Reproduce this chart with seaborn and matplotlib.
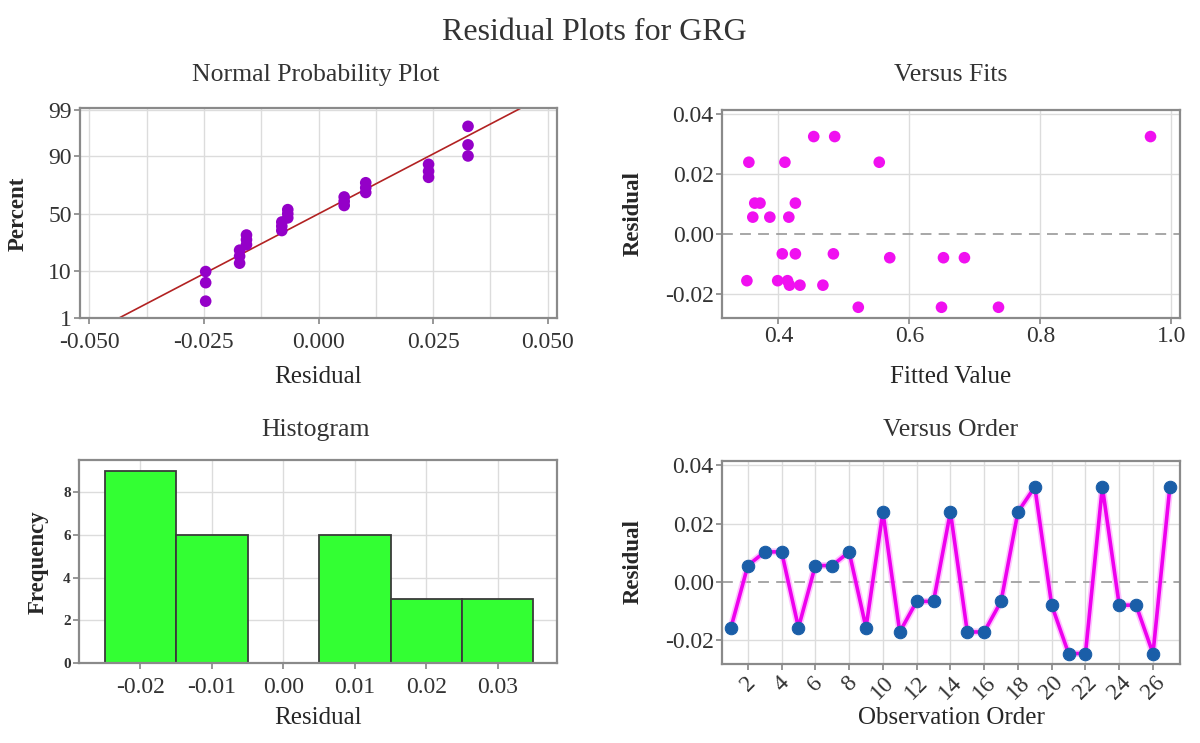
import matplotlib
matplotlib.use("Agg")
import numpy as np
import pandas as pd
import matplotlib.pyplot as plt
import seaborn as sns
from statistics import NormalDist

# datos (27 observaciones)
order = list(range(1, 28))
residuals = [-0.0157, 0.0056, 0.0103, 0.0103, -0.0157, 0.0056, 0.0056, 0.0103, -0.0157,
             0.0240, -0.0172, -0.0067, -0.0067, 0.0240, -0.0172, -0.0172, -0.0067, 0.0240,
             0.0326, -0.0080, -0.0246, -0.0246, 0.0326, -0.0080, -0.0080, -0.0246, 0.0326]
fitted = [0.352, 0.361, 0.364, 0.372, 0.399, 0.387, 0.416, 0.426, 0.414,
          0.355, 0.417, 0.406, 0.426, 0.410, 0.433, 0.468, 0.484, 0.554,
          0.454, 0.570, 0.522, 0.649, 0.486, 0.652, 0.684, 0.736, 0.968]
pct_ticks = [1, 10, 50, 90, 99]
hist_edges = [-0.025, -0.015, -0.005, 0.005, 0.015, 0.025, 0.035]

df = pd.DataFrame({"order": order, "residual": residuals, "fitted": fitted})

sns.set_theme(style="whitegrid")
plt.rcParams["font.family"] = ["Liberation Serif", "DejaVu Serif"]
plt.rcParams["axes.edgecolor"] = "#8a8a8a"
plt.rcParams["axes.linewidth"] = 1.6
plt.rcParams["grid.color"] = "#dcdcdc"
plt.rcParams["grid.linewidth"] = 1.0
plt.rcParams["text.color"] = "#333333"
plt.rcParams["xtick.color"] = "#333333"
plt.rcParams["ytick.color"] = "#333333"

W, H = 1200, 743
fig = plt.figure(figsize=(12, 7.43), dpi=100)


def box(x0, y0, x1, y1):
    return [x0 / W, 1 - y1 / H, (x1 - x0) / W, (y1 - y0) / H]


TICK = 17
XLAB = 18
YLAB = 16.5
ax1 = fig.add_axes(box(80, 108, 557, 318))
ax2 = fig.add_axes(box(722, 110, 1180, 318))
ax3 = fig.add_axes(box(79, 460, 557, 663))
ax4 = fig.add_axes(box(722, 461, 1180, 664))

for ax in (ax1, ax2, ax3, ax4):
    ax.set_axisbelow(True)
    ax.tick_params(labelsize=TICK, length=4, color="#8a8a8a", direction="out",
                   bottom=True, left=True, pad=2)

# --- Normal Probability Plot
nd = NormalDist()
n = len(residuals)
res_sorted = np.sort(residuals)
z_pts = [nd.inv_cdf((i - 0.3) / (n + 0.4)) for i in range(1, n + 1)]
mu = float(np.mean(residuals))
sd = float(np.std(residuals, ddof=1))
z_line = np.array([-2.6, 2.6])
sns.lineplot(x=mu + sd * z_line, y=z_line, ax=ax1, color="#b22222", lw=1.2)
sns.scatterplot(x=res_sorted, y=z_pts, ax=ax1, color="#9400c8", s=70,
                edgecolor="none", zorder=3)
ax1.set_xlim(-0.052, 0.052)
ax1.set_ylim(nd.inv_cdf(0.01), 2.36)
ax1.set_yticks([nd.inv_cdf(p / 100) for p in pct_ticks])
ax1.set_yticklabels([str(p) for p in pct_ticks])
ax1.set_xticks(np.arange(-0.05, 0.051, 0.025))
ax1.set_xticklabels(["-0.050", "-0.025", "0.000", "0.025", "0.050"])
ax1.set_xticks(np.arange(-0.05, 0.051, 0.0125), minor=True)
ax1.tick_params(which="minor", length=0)
ax1.tick_params(axis="x", pad=6)
ax1.grid(True, which="both", axis="x")

# --- Versus Fits
ax2.axhline(0, color="#a0a0a0", lw=1.3, ls=(0, (6, 4)), zorder=1)
sns.scatterplot(data=df, x="fitted", y="residual", ax=ax2, color="#f010f0",
                s=70, edgecolor="none", zorder=3)
ax2.set_xlim(0.314, 1.013)
ax2.set_ylim(-0.0282, 0.0415)
ax2.set_xticks([0.4, 0.6, 0.8, 1.0])
ax2.set_xticklabels(["0.4", "0.6", "0.8", "1.0"])
ax2.set_yticks([-0.02, 0.0, 0.02, 0.04])
ax2.set_yticklabels(["-0.02", "0.00", "0.02", "0.04"])
ax2.get_ygridlines()[1].set_visible(False)

# --- Histogram
sns.histplot(data=df, x="residual", bins=hist_edges, ax=ax3, color="#33ff33",
             alpha=1.0, edgecolor="#3a3a3a", linewidth=1.3)
ax3.set_xlim(-0.0286, 0.0383)
ax3.set_ylim(0, 9.5)
ax3.set_xticks([-0.02, -0.01, 0.0, 0.01, 0.02, 0.03])
ax3.set_xticklabels(["-0.02", "-0.01", "0.00", "0.01", "0.02", "0.03"])
ax3.set_yticks([0, 2, 4, 6, 8])
ax3.tick_params(axis="y", labelsize=11)
ax3.tick_params(axis="x", pad=6)
for t in ax3.get_yticklabels():
    t.set_fontweight("bold")

# --- Versus Order
ax4.axhline(0, color="#a0a0a0", lw=1.3, ls=(0, (6, 4)), zorder=1)
sns.lineplot(data=df, x="order", y="residual", ax=ax4, color="#ff99ff", lw=5,
             alpha=0.6, zorder=2)
sns.lineplot(data=df, x="order", y="residual", ax=ax4, color="#ee00ee", lw=2.6,
             marker="o", markersize=9, markerfacecolor="#1a5ea8",
             markeredgecolor="#1a5ea8", zorder=3)
ax4.set_xlim(0.47, 27.6)
ax4.set_ylim(-0.0282, 0.0415)
ax4.set_xticks(list(range(2, 27, 2)))
ax4.set_xticklabels([str(v) for v in range(2, 27, 2)], rotation=45, ha="center")
ax4.set_yticks([-0.02, 0.0, 0.02, 0.04])
ax4.set_yticklabels(["-0.02", "0.00", "0.02", "0.04"])
ax4.get_ygridlines()[1].set_visible(False)

# etiquetas de ejes
labels = [
    (ax1, "Residual", "Percent", (80, 108, 557, 318), 318, 377, 18, 214),
    (ax2, "Fitted Value", "Residual", (722, 110, 1180, 318), 951, 377, 633, 214),
    (ax3, "Residual", "Frequency", (79, 460, 557, 663), 318, 718, 38, 562),
    (ax4, "Observation Order", "Residual", (722, 461, 1180, 664), 951, 718, 633, 562),
]
for ax, xl, yl, (x0, y0, x1, y1), xlx, xly, ylx, yly in labels:
    ax.set_xlabel(xl, fontsize=XLAB)
    ax.set_ylabel(yl, fontsize=YLAB, fontweight="bold")
    ax.xaxis.set_label_coords((xlx - x0) / (x1 - x0), (y1 - xly) / (y1 - y0))
    ax.yaxis.set_label_coords((ylx - x0) / (x1 - x0), (y1 - yly) / (y1 - y0))
    ax.xaxis.label.set_va("center")
    ax.yaxis.label.set_va("center")

# títulos
fig.text(594 / W, 1 - 33 / H, "Residual Plots for GRG", ha="center", va="center",
         fontsize=23)
for txt, x, y in [("Normal Probability Plot", 316, 75), ("Versus Fits", 951, 75),
                  ("Histogram", 316, 430), ("Versus Order", 951, 430)]:
    fig.text(x / W, 1 - y / H, txt, ha="center", va="center", fontsize=18.5)

fig.savefig("out.png", dpi=100, facecolor="white")
